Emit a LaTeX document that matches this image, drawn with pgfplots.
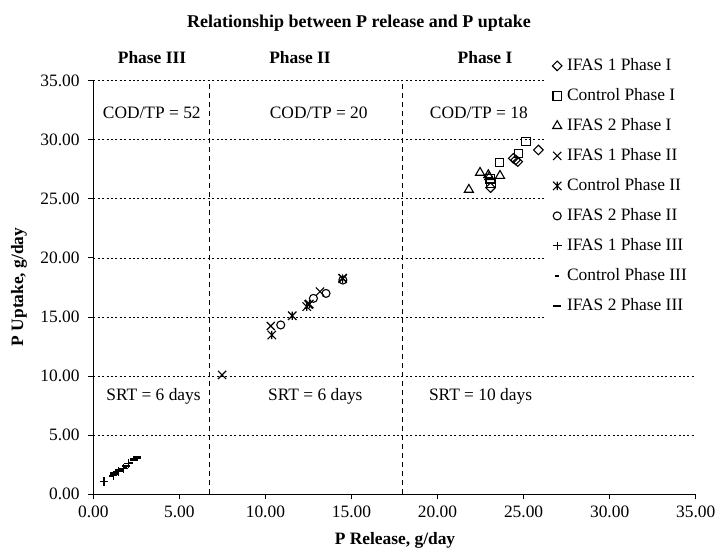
\documentclass[border=0pt]{standalone}
\usepackage{fontspec}
\setmainfont{Liberation Serif}
\usepackage{pgfplots}
\pgfplotsset{compat=1.18}
\pgfdeclareplotmark{ediamond}{%
  \pgfpathmoveto{\pgfqpoint{0pt}{\pgfplotmarksize}}%
  \pgfpathlineto{\pgfqpoint{\pgfplotmarksize}{0pt}}%
  \pgfpathlineto{\pgfqpoint{0pt}{-\pgfplotmarksize}}%
  \pgfpathlineto{\pgfqpoint{-\pgfplotmarksize}{0pt}}%
  \pgfpathclose\pgfusepathqstroke}
\pgfdeclareplotmark{xstar}{%
  \pgfpathmoveto{\pgfqpoint{-\pgfplotmarksize}{-\pgfplotmarksize}}%
  \pgfpathlineto{\pgfqpoint{\pgfplotmarksize}{\pgfplotmarksize}}%
  \pgfpathmoveto{\pgfqpoint{-\pgfplotmarksize}{\pgfplotmarksize}}%
  \pgfpathlineto{\pgfqpoint{\pgfplotmarksize}{-\pgfplotmarksize}}%
  \pgfpathmoveto{\pgfqpoint{0pt}{-\pgfplotmarksize}}%
  \pgfpathlineto{\pgfqpoint{0pt}{\pgfplotmarksize}}%
  \pgfusepathqstroke}
\pgfdeclareplotmark{hbar}{%
  \pgfpathrectangle{\pgfqpoint{-\pgfplotmarksize}{-0.6pt}}{\pgfqpoint{2\pgfplotmarksize}{1.2pt}}%
  \pgfusepathqfill}
\begin{document}
\begin{tikzpicture}
\useasboundingbox (0,0) rectangle (359pt,278pt);
\begin{axis}[
  at={(46.65pt,30.85pt)}, anchor=south west, scale only axis,
  width=301.2pt, height=206.8pt,
  xmin=0, xmax=35, ymin=0, ymax=35,
  axis x line*=bottom, axis y line*=left,
  xtick={0,5,...,35}, ytick={0,5,...,35},
  xticklabels={0.00,5.00,10.00,15.00,20.00,25.00,30.00,35.00},
  yticklabels={0.00,5.00,10.00,15.00,20.00,25.00,30.00,35.00},
  tick align=outside, major tick length=2.5pt,
  tick style={black, line width=0.5pt},
  axis line style={black, line width=0.5pt},
  ymajorgrids,
  major grid style={black, line width=0.4pt, dash pattern=on 1pt off 1.2pt},
  ticklabel style={font=\fontsize{8.7}{10}\selectfont},
  yticklabel style={xshift=-0.8pt},
  clip=false,
  legend cell align=left,
  legend image code/.code={\draw[mark repeat=2,mark phase=2] plot coordinates {(0pt,0pt)(3pt,0pt)(6pt,0pt)};},
  legend style={at={(0.7515,1.0718)}, anchor=north west, draw=none, fill=none,
    inner xsep=3pt, inner ysep=3pt, font=\fontsize{8.7}{10}\selectfont,
    row sep=6.5pt, nodes={inner xsep=2.5pt, inner ysep=0pt, text height=6.5pt, text depth=2pt}},
  every axis plot/.append style={only marks, black, line width=0.55pt, mark options={solid}},
]
% Phase I
\addplot[mark=ediamond, mark size=2.4pt] coordinates {
 (23.08,25.95) (24.40,28.43) (24.54,28.29) (24.66,28.15) (25.86,29.14)};
\addlegendentry{IFAS 1 Phase I}
\addplot[mark=square, mark size=2.1pt] coordinates {
 (23.05,26.70) (23.10,26.35) (23.59,28.06) (24.70,28.86) (25.14,29.84)};
\addlegendentry{Control Phase I}
\addplot[mark=triangle, mark size=2.6pt] coordinates {
 (21.82,25.78) (22.47,27.22) (22.95,27.02) (23.63,26.96) (23.00,26.85)};
\addlegendentry{IFAS 2 Phase I}
% Phase II
\addplot[mark=x, mark size=2.9pt] coordinates {
 (7.48,10.10) (10.31,14.24) (12.50,16.05) (13.17,17.15) (14.49,18.30)};
\addlegendentry{IFAS 1 Phase II}
\addplot[mark=xstar, mark size=2.1pt] coordinates {
 (10.37,13.48) (11.56,15.11) (12.40,15.88) (12.55,16.10) (14.49,18.25)};
\addlegendentry{Control Phase II}
\addplot[mark=o, mark size=2pt] coordinates {
 (10.89,14.33) (12.79,16.58) (13.52,17.00) (14.50,18.13)};
\addlegendentry{IFAS 2 Phase II}
% Phase III
\addplot[mark=+, mark size=2.2pt] coordinates {
 (0.62,1.07) (1.15,1.62) (1.45,1.95) (1.75,2.20) (2.03,2.62)};
\addlegendentry{IFAS 1 Phase III}
\addplot[mark=hbar, mark size=1.1pt] coordinates {
 (1.05,1.55) (1.30,1.80) (1.55,2.05) (1.85,2.35) (2.20,2.65)};
\addlegendentry{Control Phase III}
\addplot[mark=hbar, mark size=1.9pt] coordinates {
 (1.20,1.75) (1.50,2.05) (1.90,2.40) (2.35,2.95) (2.55,3.10)};
\addlegendentry{IFAS 2 Phase III}
% cover of gridlines behind the legend
\fill[white] (axis cs:26.3,12) rectangle (axis cs:35.3,35.4);
% phase boundaries
\draw[black, line width=0.6pt, dash pattern=on 2.5pt off 2pt] (axis cs:6.75,0) -- (axis cs:6.75,35);
\draw[black, line width=0.6pt, dash pattern=on 2.5pt off 2pt] (axis cs:17.95,0) -- (axis cs:17.95,35);
% annotations
\node[font=\fontsize{8.7}{10}\selectfont] at (axis cs:3.4,32.3) {COD/TP = 52};
\node[font=\fontsize{8.7}{10}\selectfont] at (axis cs:13.1,32.3) {COD/TP = 20};
\node[font=\fontsize{8.7}{10}\selectfont] at (axis cs:22.4,32.3) {COD/TP = 18};
\node[font=\fontsize{8.7}{10}\selectfont] at (axis cs:3.5,8.25) {SRT = 6 days};
\node[font=\fontsize{8.7}{10}\selectfont] at (axis cs:12.9,8.25) {SRT = 6 days};
\node[font=\fontsize{8.7}{10}\selectfont] at (axis cs:22.5,8.25) {SRT = 10 days};
\end{axis}
\node[font=\bfseries\fontsize{8.7}{10}\selectfont] at (76pt,249pt) {Phase III};
\node[font=\bfseries\fontsize{8.7}{10}\selectfont] at (150pt,249pt) {Phase II};
\node[font=\bfseries\fontsize{8.7}{10}\selectfont] at (242.5pt,249pt) {Phase I};
\node[font=\bfseries\fontsize{9}{10}\selectfont] at (179.5pt,266.5pt) {Relationship between P release and P uptake};
\node[font=\bfseries\fontsize{8.7}{10}\selectfont] at (197.5pt,8pt) {P Release, g/day};
\node[font=\bfseries\fontsize{8.7}{10}\selectfont, rotate=90] at (9.5pt,134.5pt) {P Uptake, g/day};
\end{tikzpicture}
\end{document}
